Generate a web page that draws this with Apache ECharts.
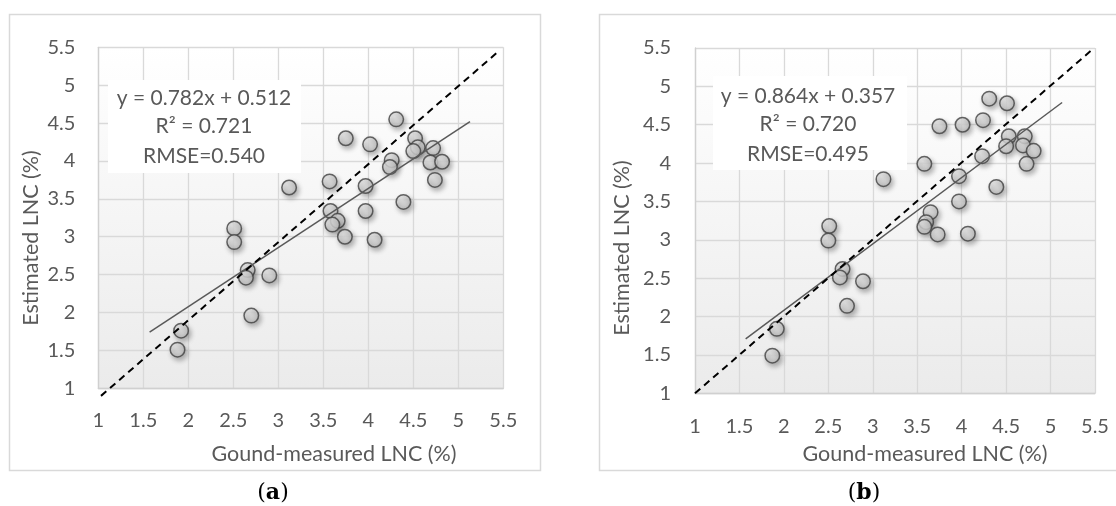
<!DOCTYPE html>
<html>
<head>
<meta charset="utf-8">
<script src="https://cdn.jsdelivr.net/npm/echarts@6/dist/echarts.min.js"></script>
<style>
html,body{margin:0;padding:0;background:#fff;}
#chart{width:1116px;height:506px;}
</style>
</head>
<body>
<div id="chart"></div>
<script>
// ---- data ----
const axisTicks = [1, 1.5, 2, 2.5, 3, 3.5, 4, 4.5, 5, 5.5];

const measuredA = [4.31, 3.75, 4.02, 4.52, 4.55, 4.50, 4.72, 4.69, 4.82, 4.74, 4.26, 4.24, 3.57, 3.97, 3.12, 4.39, 3.97, 3.58, 3.66, 3.60, 3.74, 4.07, 2.51, 2.51, 2.66, 2.64, 2.90, 2.70, 1.92, 1.88];
const estimatedA = [4.55, 4.30, 4.22, 4.30, 4.18, 4.13, 4.17, 3.98, 3.99, 3.75, 4.01, 3.92, 3.73, 3.67, 3.65, 3.46, 3.34, 3.34, 3.21, 3.16, 3.00, 2.96, 3.11, 2.93, 2.56, 2.46, 2.49, 1.96, 1.76, 1.51];

const measuredB = [4.31, 4.51, 3.75, 4.01, 4.24, 4.53, 4.50, 4.71, 4.69, 4.81, 4.73, 4.23, 3.58, 3.97, 3.12, 4.39, 3.97, 3.65, 3.60, 3.58, 3.73, 4.07, 2.51, 2.50, 2.66, 2.63, 2.89, 2.71, 1.92, 1.87];
const estimatedB = [4.84, 4.78, 4.48, 4.50, 4.56, 4.35, 4.22, 4.35, 4.23, 4.16, 3.99, 4.09, 3.99, 3.83, 3.79, 3.69, 3.50, 3.36, 3.23, 3.17, 3.07, 3.08, 3.18, 2.99, 2.62, 2.51, 2.46, 2.14, 1.84, 1.49];

// trend line end points
const trendA = [[1.57, 1.74], [5.13, 4.52]];
const trendB = [[1.57, 1.71], [5.13, 4.79]];
// 1:1 reference (dashed) line end points
const refA = [[1.03, 0.90], [5.46, 5.46]];
const refB = [[1.00, 1.00], [5.49, 5.50]];

const eqA = ['y = 0.782x + 0.512', 'R² = 0.721', 'RMSE=0.540'];
const eqB = ['y = 0.864x + 0.357', 'R² = 0.720', 'RMSE=0.495'];
const xTitle = 'Gound-measured LNC (%)';
const yTitle = 'Estimated LNC (%)';
const panelLabels = ['a', 'b'];

// ---- styles ----
const TXT = '#595959';
const FONT = 'Lato';
const zip = (xs, ys) => xs.map((x, i) => [x, ys[i]]);

function axisOf(gi, margin) {
  return {
    type: 'value', gridIndex: gi, min: axisTicks[0], max: axisTicks[axisTicks.length - 1], interval: 0.5,
    axisLine: {show: true, lineStyle: {color: '#d0d0d0', width: 1.3}},
    axisTick: {show: false},
    splitLine: {show: true, lineStyle: {color: '#d9d9d9', width: 1.3}},
    axisLabel: {color: TXT, fontFamily: FONT, fontSize: 20, margin: margin}
  };
}
const bg = {type: 'linear', x: 0, y: 0, x2: 0, y2: 1, colorStops: [{offset: 0, color: '#ffffff'}, {offset: 1, color: '#ebebeb'}]};

const markerStyle = {
  color: {type: 'radial', x: 0.4, y: 0.35, r: 0.75, colorStops: [{offset: 0, color: '#efefef'}, {offset: 1, color: '#b8b8b8'}]},
  borderColor: '#404040', borderWidth: 1.5,
  shadowBlur: 5, shadowColor: 'rgba(0,0,0,0.35)', shadowOffsetX: 2, shadowOffsetY: 3
};

function scatter(idx, xs, ys) {
  return {type: 'scatter', xAxisIndex: idx, yAxisIndex: idx, data: zip(xs, ys), symbol: 'circle', symbolSize: 14.5, itemStyle: markerStyle, z: 2, silent: true};
}
function trend(idx, pts) {
  return {type: 'line', xAxisIndex: idx, yAxisIndex: idx, data: pts, symbol: 'none', lineStyle: {color: '#595959', width: 1.5}, z: 4, silent: true};
}
function ref(idx, pts) {
  return {type: 'line', xAxisIndex: idx, yAxisIndex: idx, data: pts, symbol: 'none', clip: false, lineStyle: {color: '#000', width: 2, type: [7, 5]}, z: 4, silent: true};
}

function eqBox(x, y, w, h, cx, lines, ys) {
  const els = [{type: 'rect', shape: {x: x, y: y, width: w, height: h}, style: {fill: '#ffffff'}, z: 5, silent: true}];
  lines.forEach((t, i) => els.push({type: 'text', x: cx, y: ys[i], z: 6, silent: true,
    style: {text: t, fill: TXT, font: '21px ' + FONT, textAlign: 'center', textVerticalAlign: 'middle'}}));
  return els;
}
function titleText(x, y, t, rot) {
  return {type: 'text', x: x, y: y, rotation: rot || 0, z: 6, silent: true,
    style: {text: t, fill: TXT, font: '21.5px ' + FONT, textAlign: 'center', textVerticalAlign: 'middle'}};
}
function panelLabel(x, y, t) {
  return {type: 'text', x: x, y: y, z: 6, silent: true,
    style: {text: '({b|' + t + '})', fill: '#000', font: '22px "DejaVu Serif"', textAlign: 'center', textVerticalAlign: 'middle',
      rich: {b: {fontWeight: 'bold', fontFamily: 'DejaVu Serif', fontSize: 22, fill: '#000'}}}};
}

const graphics = [
  // outer frames
  {type: 'rect', shape: {x: 9.5, y: 14.5, width: 531, height: 456}, style: {fill: 'none', stroke: '#d9d9d9', lineWidth: 1.5}, z: 0, silent: true},
  {type: 'rect', shape: {x: 599.5, y: 14.5, width: 530, height: 456}, style: {fill: 'none', stroke: '#d9d9d9', lineWidth: 1.5}, z: 0, silent: true},
  ...eqBox(108, 80, 193, 93, 204, eqA, [98, 126, 156]),
  ...eqBox(713, 76, 194, 94, 808, eqB, [96, 124, 154]),
  titleText(334, 454, xTitle),
  titleText(925, 454, xTitle),
  titleText(31, 238, yTitle, Math.PI / 2),
  titleText(622, 248, yTitle, Math.PI / 2),
  panelLabel(273, 493, panelLabels[0]),
  panelLabel(864, 493, panelLabels[1])
];

const chart = echarts.init(document.getElementById('chart'), null, {renderer: 'canvas'});
chart.setOption({
  animation: false,
  backgroundColor: '#ffffff',
  grid: [
    {left: 98.3, top: 47.3, width: 405, height: 341, show: true, backgroundColor: bg, borderWidth: 0},
    {left: 695, top: 48, width: 400, height: 345.3, show: true, backgroundColor: bg, borderWidth: 0}
  ],
  xAxis: [axisOf(0, 22), axisOf(1, 23)],
  yAxis: [axisOf(0, 23), axisOf(1, 24)],
  series: [
    scatter(0, measuredA, estimatedA), trend(0, trendA), ref(0, refA),
    scatter(1, measuredB, estimatedB), trend(1, trendB), ref(1, refB)
  ],
  graphic: graphics
});
</script>
</body>
</html>
